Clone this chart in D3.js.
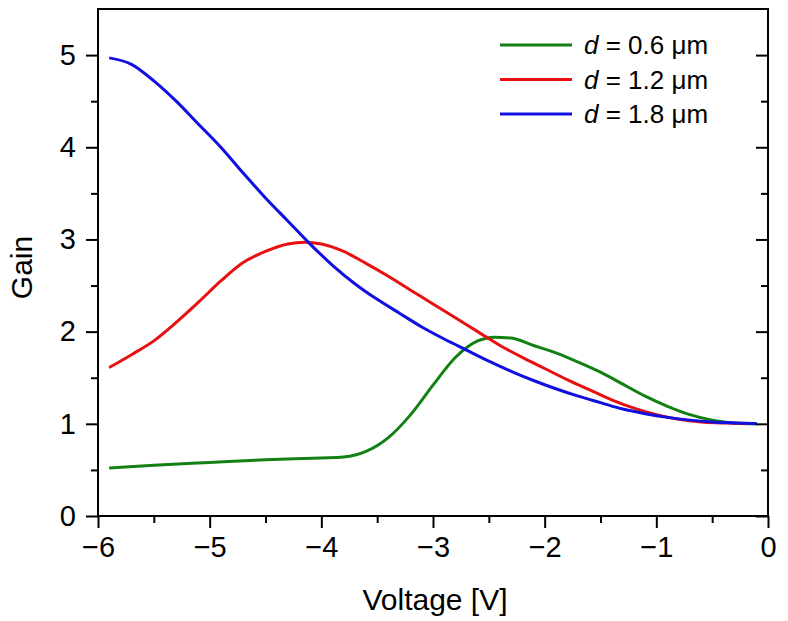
<!DOCTYPE html>
<html>
<head>
<meta charset="UTF-8">
<script src="https://cdn.jsdelivr.net/npm/d3@7"></script>
<style>body{margin:0;background:#fff;font-family:"Liberation Sans",Arial,sans-serif;}</style>
</head>
<body>
<svg id="chart" width="788" height="621"></svg>
<script>
var blueX = [-5.9,-5.7,-5.5,-5.3,-5.1,-4.9,-4.7,-4.5,-4.3,-4.1,-3.9,-3.7,-3.5,-3.3,-3.1,-2.9,-2.7,-2.5,-2.3,-2.1,-1.9,-1.7,-1.5,-1.3,-1.1,-0.9,-0.7,-0.5,-0.3,-0.1];
var blueY = [4.97,4.9,4.72,4.5,4.25,4.0,3.72,3.45,3.2,2.95,2.72,2.52,2.35,2.2,2.05,1.92,1.8,1.68,1.57,1.47,1.38,1.3,1.23,1.16,1.11,1.07,1.04,1.02,1.01,1.0];
var redX = [-5.9,-5.7,-5.5,-5.3,-5.1,-4.9,-4.7,-4.5,-4.3,-4.15,-4.0,-3.8,-3.6,-3.4,-3.2,-3.0,-2.8,-2.6,-2.4,-2.2,-2.0,-1.8,-1.6,-1.4,-1.2,-1.0,-0.8,-0.6,-0.4,-0.2];
var redY = [1.61,1.75,1.9,2.1,2.32,2.55,2.75,2.87,2.95,2.97,2.95,2.87,2.74,2.6,2.45,2.3,2.15,2.0,1.85,1.72,1.6,1.48,1.37,1.26,1.17,1.1,1.05,1.02,1.01,1.0];
var greenX = [-5.9,-5.5,-5.0,-4.5,-4.0,-3.8,-3.6,-3.4,-3.2,-3.0,-2.8,-2.6,-2.45,-2.3,-2.1,-1.9,-1.7,-1.5,-1.3,-1.1,-0.9,-0.7,-0.5,-0.3,-0.1];
var greenY = [0.52,0.55,0.58,0.61,0.63,0.64,0.7,0.85,1.1,1.42,1.72,1.9,1.94,1.93,1.85,1.77,1.67,1.56,1.43,1.3,1.19,1.1,1.04,1.01,1.0];
var seriesNames = ["0.6", "1.2", "1.8"];
var seriesColors = ["#138013", "#e81010", "#1010e0"];
var xTicks = [-6,-5,-4,-3,-2,-1,0];
var yTicks = [0,1,2,3,4,5];

var svg = d3.select("#chart");
var L = 98, R = 768, T = 9, B = 516;
var x = d3.scaleLinear().domain([-6, 0]).range([L, R]);
var y = d3.scaleLinear().domain([0, 5.5]).range([B, T]);

function zip(xs, ys) { return xs.map(function(v, i) { return [v, ys[i]]; }); }
var series = [zip(greenX, greenY), zip(redX, redY), zip(blueX, blueY)];

var line = d3.line().x(function(d){return x(d[0]);}).y(function(d){return y(d[1]);}).curve(d3.curveMonotoneX);
series.forEach(function(s, i) {
  svg.append("path").attr("d", line(s)).attr("fill", "none")
    .attr("stroke", seriesColors[i]).attr("stroke-width", 3);
});

// frame
svg.append("rect").attr("x", L).attr("y", T).attr("width", R - L).attr("height", B - T)
  .attr("fill", "none").attr("stroke", "#000").attr("stroke-width", 2);

var minorX = d3.range(-5.5, 0, 1);
var minorY = d3.range(0.5, 5.5, 1);

svg.append("g").attr("transform", "translate(0," + B + ")")
  .call(d3.axisBottom(x).tickValues(xTicks).tickSize(12).tickPadding(8)
    .tickFormat(function(d){ return d === 0 ? "0" : "\u2212" + Math.abs(d); }));
svg.append("g").attr("transform", "translate(0," + B + ")")
  .call(d3.axisBottom(x).tickValues(minorX).tickSize(7).tickFormat(""));
svg.append("g").attr("transform", "translate(" + L + ",0)")
  .call(d3.axisLeft(y).tickValues(yTicks).tickSize(12).tickPadding(10).tickFormat(d3.format("d")));
svg.append("g").attr("transform", "translate(" + L + ",0)")
  .call(d3.axisLeft(y).tickValues(minorY).tickSize(7).tickFormat(""));
svg.append("g").attr("transform", "translate(" + R + ",0)")
  .call(d3.axisLeft(y).tickValues(yTicks).tickSize(12).tickFormat(""));
svg.append("g").attr("transform", "translate(" + R + ",0)")
  .call(d3.axisLeft(y).tickValues(minorY).tickSize(7).tickFormat(""));

svg.selectAll(".domain").remove();
svg.selectAll(".tick line").attr("stroke", "#000").attr("stroke-width", 2);
svg.selectAll("g").attr("font-size", 29).attr("font-family", "Liberation Sans, Arial, sans-serif");
svg.selectAll(".tick text").attr("fill", "#000");

svg.append("text").attr("x", 435).attr("y", 610).attr("text-anchor", "middle")
  .attr("font-size", 30).text("Voltage [V]");
svg.append("text").attr("transform", "translate(32," + ((T + B) / 2 + 5) + ") rotate(-90)")
  .attr("text-anchor", "middle").attr("font-size", 30).text("Gain");

// legend
seriesNames.forEach(function(n, i) {
  var ly = 45 + i * 34.5;
  svg.append("line").attr("x1", 500).attr("x2", 572).attr("y1", ly).attr("y2", ly)
    .attr("stroke", seriesColors[i]).attr("stroke-width", 3);
  var t = svg.append("text").attr("x", 584).attr("y", ly + 9).attr("font-size", 26);
  t.append("tspan").attr("font-style", "italic").text("d");
  t.append("tspan").text(" = " + n + " \u03bcm");
});
</script>
</body>
</html>
